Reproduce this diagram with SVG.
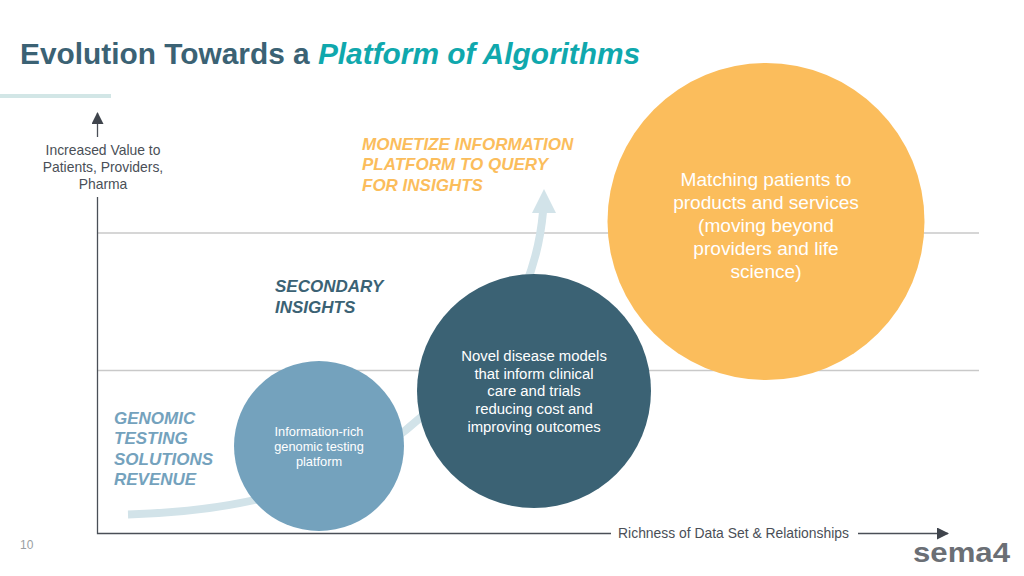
<svg xmlns="http://www.w3.org/2000/svg" width="1024" height="576" viewBox="0 0 1024 576">
<style>
text{font-family:"Liberation Sans",Arial,sans-serif}
.grid{stroke:#c9c9c9;stroke-width:1.3;fill:none}
.axis{stroke:#4a4f57;stroke-width:1.3;fill:none}
.lab{font-size:13.900px;fill:#4a4f57;text-anchor:middle}
.head{font-size:17px;font-weight:bold;font-style:italic}
.c{fill:#fff;text-anchor:middle}
</style>
<defs>
<marker id="ah" viewBox="0 0 12 12" refX="11" refY="6" markerWidth="12" markerHeight="12" markerUnits="userSpaceOnUse" orient="auto"><path d="M0 0L12 6L0 12Z" fill="#3f444c"/></marker>
</defs>
<rect width="1024" height="576" fill="#fff"/>
<g id="title">
<text x="20" y="64" font-size="29.850" font-weight="bold" fill="#3b6274">Evolution Towards a <tspan font-style="italic" fill="#10a8ad">Platform of Algorithms</tspan></text>
<rect x="0" y="94" width="111" height="4" fill="#d2e6e6"/>
</g>
<g id="connectors">
<path class="grid" d="M98 233H979M98 370.500H979"/>
<path class="axis" d="M97.500 197V533.500H611"/>
<path class="axis" d="M97.500 137V113" marker-end="url(#ah)"/>
<path class="axis" d="M858 533.500H948" marker-end="url(#ah)"/>
<path d="M128 514.500C240 511 340 490 420 418C490 360 535 300 543 212" fill="none" stroke="#d2e3e9" stroke-width="8"/>
<path d="M532 213L544 189L556 213Z" fill="#d2e3e9"/>
</g>
<g id="label-y"><text class="lab" x="103" y="155">Increased Value to</text><text class="lab" x="103" y="172">Patients, Providers,</text><text class="lab" x="103" y="189">Pharma</text></g>
<g id="label-x"><text class="lab" x="733.500" y="538">Richness of Data Set &amp; Relationships</text></g>
<g id="heading-monetize"><text class="head" fill="#fbbd5c" x="362" y="150">MONETIZE INFORMATION</text><text class="head" fill="#fbbd5c" x="362" y="170">PLATFORM TO QUERY</text><text class="head" fill="#fbbd5c" x="362" y="191">FOR INSIGHTS</text></g>
<g id="heading-secondary"><text class="head" fill="#3b6274" x="275" y="292">SECONDARY</text><text class="head" fill="#3b6274" x="275" y="313">INSIGHTS</text></g>
<g id="heading-genomic"><text class="head" fill="#74a2bd" x="114" y="424">GENOMIC</text><text class="head" fill="#74a2bd" x="114" y="444">TESTING</text><text class="head" fill="#74a2bd" x="114" y="465">SOLUTIONS</text><text class="head" fill="#74a2bd" x="114" y="485">REVENUE</text></g>
<g id="node-genomic"><circle cx="319" cy="446" r="85" fill="#74a2bd"/><g class="c" font-size="12.800"><text x="319" y="436">Information-rich</text><text x="319" y="451">genomic testing</text><text x="319" y="466">platform</text></g></g>
<g id="node-disease"><circle cx="534" cy="391" r="117" fill="#3b6274"/><g class="c" font-size="14.900"><text x="534" y="361">Novel disease models</text><text x="534" y="379">that inform clinical</text><text x="534" y="396">care and trials</text><text x="534" y="414">reducing cost and</text><text x="534" y="432">improving outcomes</text></g></g>
<g id="node-matching"><circle cx="766" cy="221.500" r="158.500" fill="#fbbd5c"/><g class="c" font-size="19.100"><text x="766" y="186">Matching patients to</text><text x="766" y="209">products and services</text><text x="766" y="232">(moving beyond</text><text x="766" y="255">providers and life</text><text x="766" y="278">science)</text></g></g>
<g id="page-number"><text x="20" y="549" font-size="12" fill="#9a9fa3">10</text></g>
<g id="logo"><text x="913" y="562" font-size="27" font-weight="bold" fill="#6b6f75" textLength="97" lengthAdjust="spacingAndGlyphs" font-family="DejaVu Sans">sema4</text></g>
</svg>
